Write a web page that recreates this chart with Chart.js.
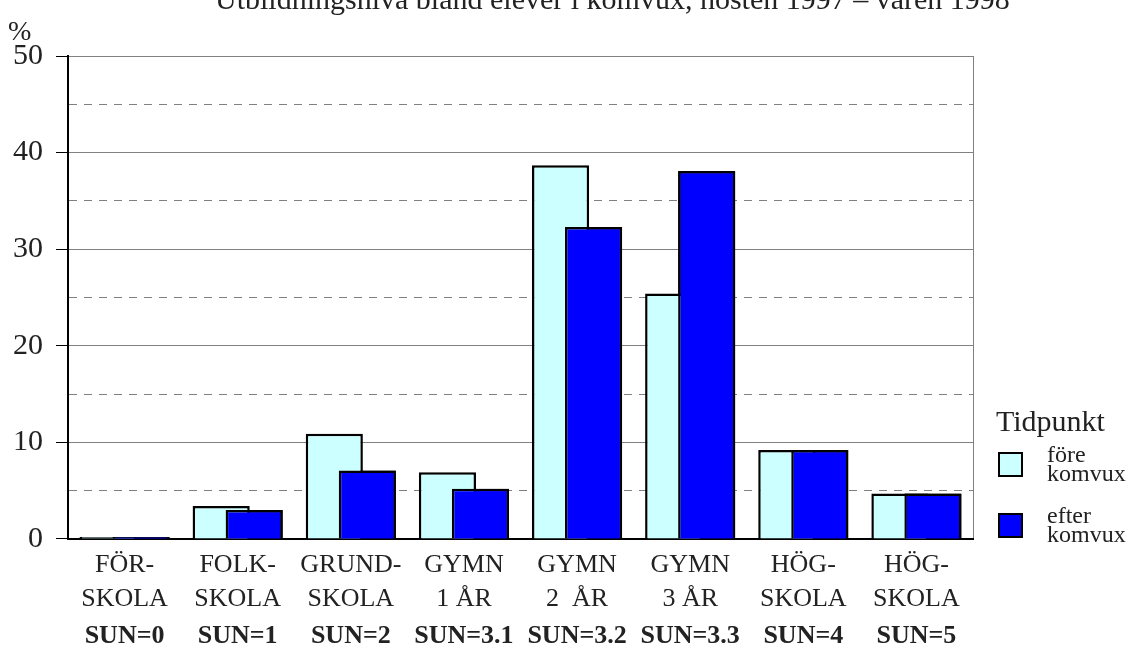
<!DOCTYPE html>
<html>
<head>
<meta charset="utf-8">
<script src="https://cdn.jsdelivr.net/npm/chart.js@4"></script>
<style>
  html, body { margin: 0; padding: 0; background: #fff; }
  #wrap { position: relative; width: 1137px; height: 646px; overflow: hidden; }
  #title { position: absolute; top: -18px; left: 215px; font: 30px "Liberation Serif"; color: #222; white-space: nowrap; }
  #pct { position: absolute; left: 8px; top: 15px; font: 28px "Liberation Serif"; color: #222; }
  #legend { position: absolute; left: 996px; top: 404px; font-family: "Liberation Serif"; color: #222; }
  #legend .lt { font-size: 30px; line-height: 34px; }
  #legend .li { display: flex; align-items: center; height: 38px; margin-top: 7px; margin-bottom: 23px; }
  #legend .sw { box-sizing: border-box; width: 25px; height: 25px; border: 2px solid #000; margin-left: 2px; margin-right: 24px; }
  #legend .lbl { font-size: 24px; line-height: 19px; white-space: pre; }
</style>
</head>
<body>
<div id="wrap">
  <canvas id="myChart" width="1137" height="646"></canvas>
  <div id="title">Utbildningsnivå bland elever i komvux, hösten 1997 – våren 1998</div>
  <div id="pct">%</div>
  <div id="legend"></div>
</div>
<script>
const categories = [
  ['FÖR-', 'SKOLA'],
  ['FOLK-', 'SKOLA'],
  ['GRUND-', 'SKOLA'],
  ['GYMN', '1 ÅR'],
  ['GYMN', '2  ÅR'],
  ['GYMN', '3 ÅR'],
  ['HÖG-', 'SKOLA'],
  ['HÖG-', 'SKOLA']
];
const sunLabels = ['SUN=0', 'SUN=1', 'SUN=2', 'SUN=3.1', 'SUN=3.2', 'SUN=3.3', 'SUN=4', 'SUN=5'];
const foreKomvux = [0.2, 3.4, 10.9, 6.9, 38.7, 25.4, 9.2, 4.7];
const efterKomvux = [0.2, 3.0, 7.1, 5.2, 32.3, 38.1, 9.2, 4.7];
const seriesNames = ['före\nkomvux', 'efter\nkomvux'];
const legendTitle = 'Tidpunkt';

const serif = 'Liberation Serif';
const ctx = document.getElementById('myChart');

// draw the "efter" bars again so they sit on top of the "före" bars
const efterOnTop = {
  id: 'efterOnTop',
  afterDatasetsDraw(chart) {
    const meta = chart.getDatasetMeta(1);
    if (meta.visible) meta.controller.draw();
  }
};

// legend built from the datasets, placed beside the plot
const htmlLegend = {
  id: 'htmlLegend',
  afterUpdate(chart) {
    const box = document.getElementById('legend');
    box.innerHTML = '';
    const t = document.createElement('div');
    t.className = 'lt';
    t.textContent = legendTitle;
    box.appendChild(t);
    chart.data.datasets.forEach(ds => {
      const row = document.createElement('div');
      row.className = 'li';
      const sw = document.createElement('span');
      sw.className = 'sw';
      sw.style.background = ds.backgroundColor;
      const lbl = document.createElement('span');
      lbl.className = 'lbl';
      lbl.textContent = ds.label;
      row.appendChild(sw);
      row.appendChild(lbl);
      box.appendChild(row);
    });
  }
};

let graphdata = {
  type: 'bar',
  data: {
    labels: categories,
    datasets: [{
      label: seriesNames[0],
      data: foreKomvux,
      backgroundColor: '#ccffff',
      borderColor: '#000',
      borderWidth: 2.5
    }, {
      label: seriesNames[1],
      data: efterKomvux,
      backgroundColor: '#0000ff',
      borderColor: '#000',
      borderWidth: 2.5
    }]
  },
  options: {
    responsive: false,
    animation: false,
    categoryPercentage: 0.584,
    barPercentage: 1.73,
    layout: { padding: { top: 56, left: 0, right: 164, bottom: 0 } },
    scales: {
      y: {
        min: 0,
        max: 50,
        ticks: {
          stepSize: 5,
          autoSkip: false,
          padding: 13,
          color: '#222',
          font: { family: serif, size: 30 },
          callback: v => v % 10 === 0 ? v : ''
        },
        grid: {
          color: '#808080',
          lineWidth: 1,
          tickLength: 12,
          tickColor: c => (c.tick && c.tick.value % 10 === 0) ? '#000' : 'rgba(0,0,0,0)'
        },
        border: {
          color: '#000',
          width: 2,
          dash: c => (c.tick && c.tick.value % 10 !== 0) ? [8, 7] : []
        }
      },
      yRight: {
        position: 'right',
        min: 0,
        max: 50,
        ticks: { display: false },
        grid: { drawOnChartArea: false, drawTicks: false },
        border: { color: '#808080', width: 1 }
      },
      x: {
        grid: { display: false, drawTicks: false },
        border: { color: '#000', width: 2 },
        ticks: {
          autoSkip: false,
          maxRotation: 0,
          padding: 9.5,
          color: '#222',
          font: { family: serif, size: 26, lineHeight: 1.308 }
        }
      },
      xSun: {
        type: 'category',
        position: 'bottom',
        labels: sunLabels,
        offset: true,
        grid: { display: false, drawTicks: false },
        border: { display: false },
        ticks: {
          autoSkip: false,
          maxRotation: 0,
          padding: 0,
          color: '#222',
          font: { family: serif, size: 26, weight: 'bold', lineHeight: 0.77 }
        }
      }
    },
    plugins: {
      tooltip: { enabled: false },
      legend: { display: false }
    }
  },
  plugins: [efterOnTop, htmlLegend]
};

let mychart = new Chart(ctx, graphdata);
</script>
</body>
</html>
